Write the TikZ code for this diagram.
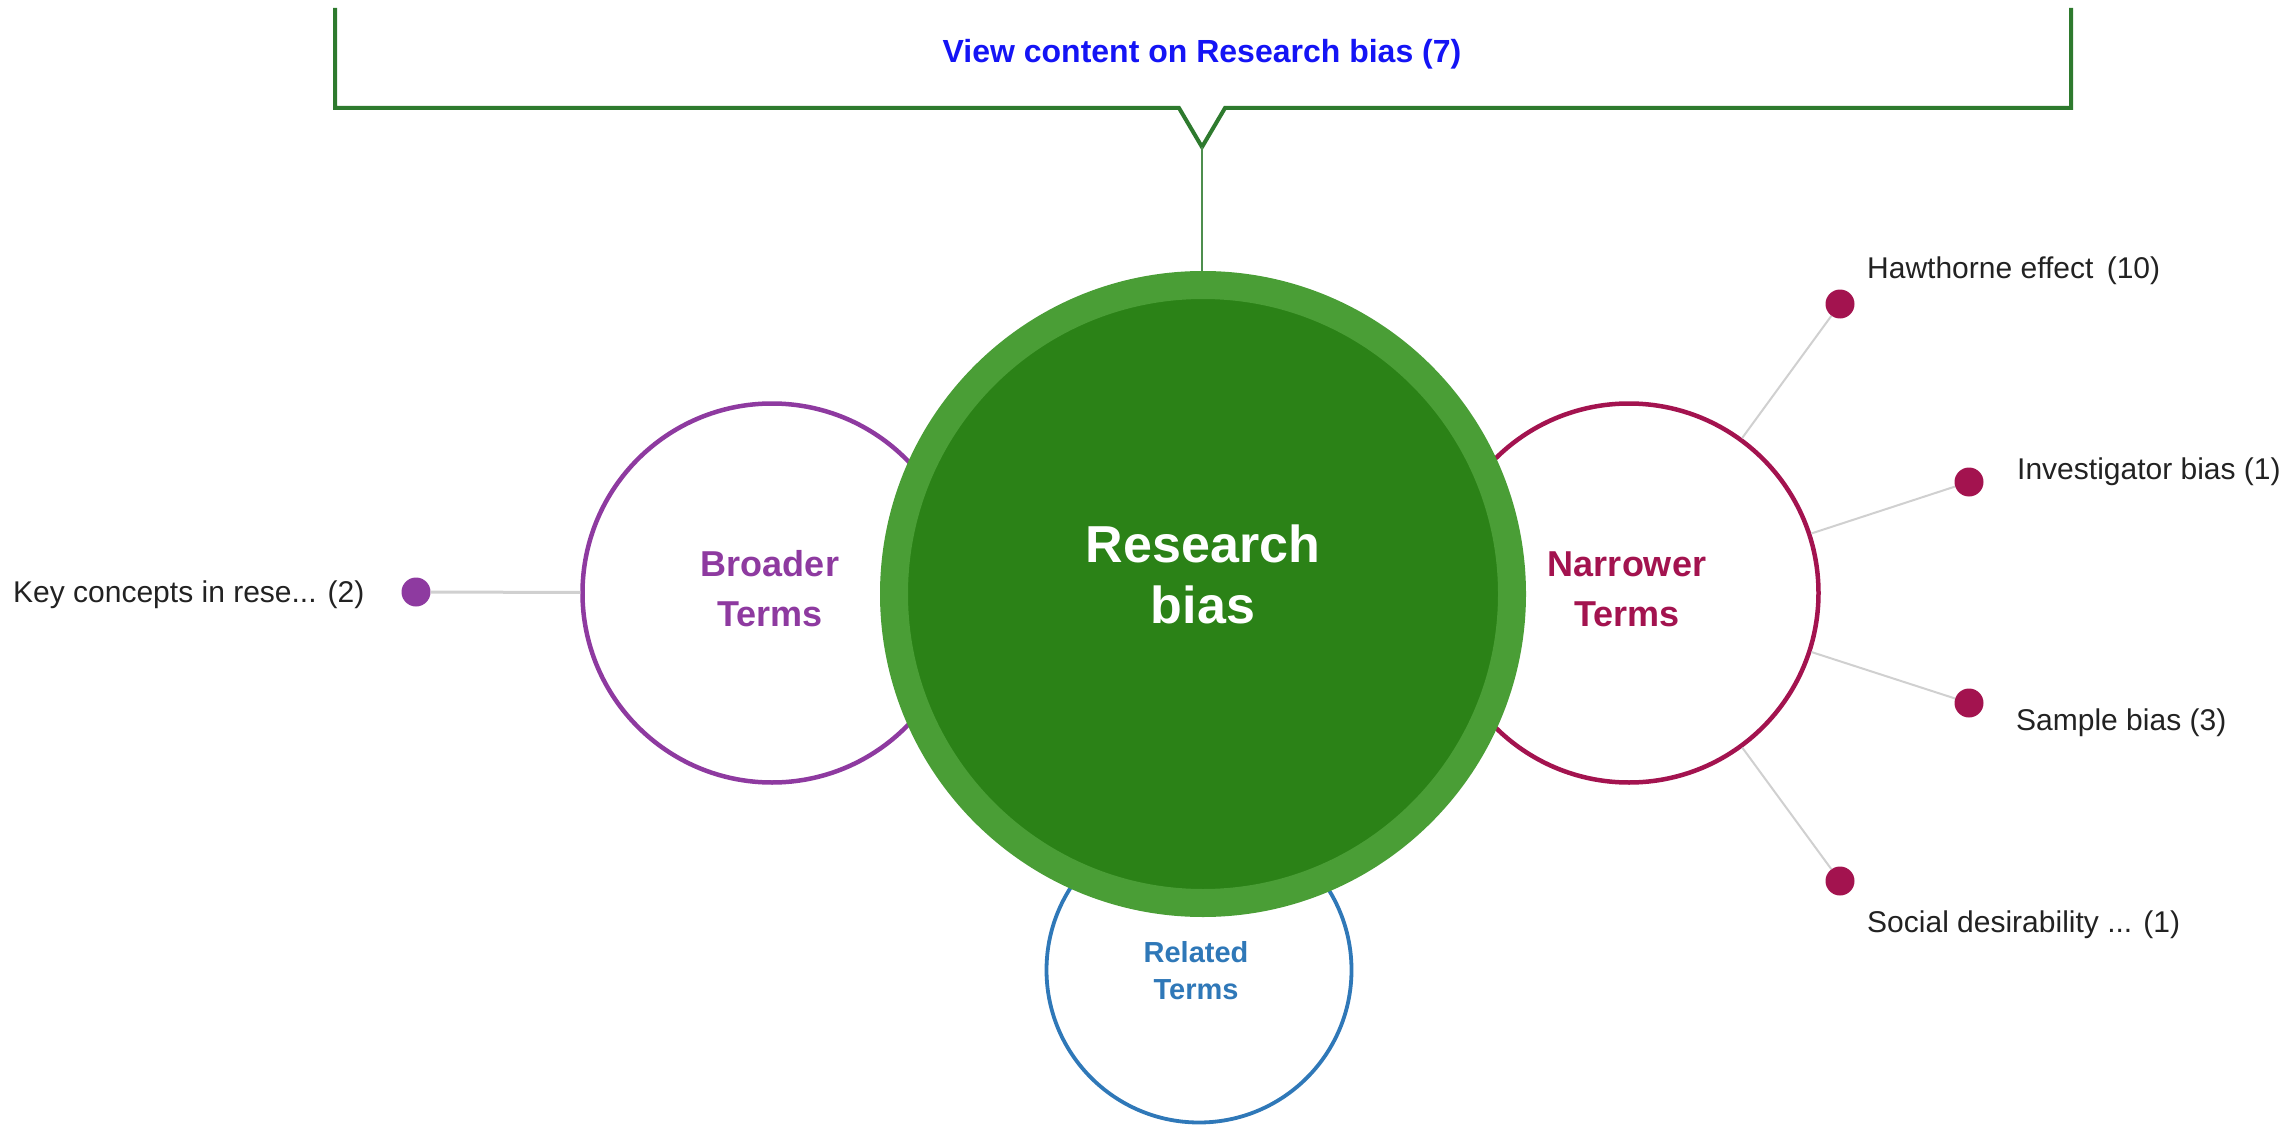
\documentclass[tikz,border=0pt]{standalone}
\usepackage{fontspec}
\setmainfont{Liberation Sans}
\definecolor{ringgreen}{HTML}{4A9E36}
\definecolor{coregreen}{HTML}{2B8217}
\definecolor{boxgreen}{HTML}{2E7A2E}
\definecolor{broadpurple}{HTML}{8E3AA0}
\definecolor{narrowred}{HTML}{A3134F}
\definecolor{relblue}{HTML}{2F78B8}
\definecolor{linkblue}{HTML}{1414F5}
\definecolor{conngray}{HTML}{D0D0D0}
\definecolor{leaftext}{HTML}{222222}
\tikzset{
  termcircle/.style={circle, draw=#1, line width=4.5pt, fill=white, minimum size=379pt, inner sep=0pt},
  dotnode/.style={circle, fill=#1, minimum size=29pt, inner sep=0pt},
  leaflabel/.style={anchor=base west, inner sep=0pt, font=\fontsize{30}{36}\selectfont, text=leaftext},
  termlabel/.style={align=center, inner sep=0pt, text=#1},
  conn/.style={draw=conngray, line width=2pt},
}
\begin{document}
\begin{tikzpicture}[x=1pt,y=-1pt]
\useasboundingbox (0,0) rectangle (2292,1126);
% callout box
\coordinate (tip) at (1202,147);
\draw[boxgreen, line width=4pt, line join=miter]
  (335,8) -- (335,108) -- (1179,108) -- (tip) -- (1225,108) -- (2071,108) -- (2071,8);
\node[anchor=base, inner sep=0pt, text=linkblue, font=\fontsize{32}{38}\selectfont\bfseries] (viewlink) at (1202,63) {View content on Research bias (7)};
% term circles (below main)
\node[termcircle=relblue, line width=3.8pt, minimum size=305pt] (related) at (1199,970) {};
\node[termcircle=broadpurple] (broader) at (772,593) {};
\node[termcircle=narrowred] (narrower) at (1629,593) {};
% leaf dots
\node[dotnode=broadpurple] (kc) at (416,592) {};
\node[dotnode=narrowred] (haw) at (1840,304) {};
\node[dotnode=narrowred] (inv) at (1969,482) {};
\node[dotnode=narrowred] (sam) at (1969,703) {};
\node[dotnode=narrowred] (soc) at (1840,881) {};
% connectors
\draw[conn, line width=3pt] (broader) -- (kc);
\draw[conn] (narrower) -- (haw);
\draw[conn] (narrower) -- (inv);
\draw[conn] (narrower) -- (sam);
\draw[conn] (narrower) -- (soc);
% main circle
\node[circle, draw=ringgreen, line width=28pt, fill=coregreen, minimum size=618pt, inner sep=0pt] (main) at (1203,594) {};
\draw[boxgreen!85!white, line width=2pt] (tip) -- (tip |- main.north);
% labels
\node[termlabel=white, font=\fontsize{52}{61}\selectfont\bfseries] (mainlbl) at (1203,574) {Research\\bias};
\node[termlabel=broadpurple, font=\fontsize{36}{50}\selectfont\bfseries] (broadlbl) at (770,589) {Broader\\Terms};
\node[termlabel=narrowred, font=\fontsize{36}{50}\selectfont\bfseries] (narrowlbl) at (1627,589) {Narrower\\Terms};
\node[termlabel=relblue, font=\fontsize{29}{37}\selectfont\bfseries] (rellbl) at (1196,971) {Related\\Terms};
\node[leaflabel] (kclbl) at (13,602) {Key concepts in rese... (2)};
\node[leaflabel] (hawlbl) at (1867,279) {Hawthorne effect\, (10)};
\node[leaflabel] (invlbl) at (2017,479) {Investigator bias (1)};
\node[leaflabel] (samlbl) at (2016,730) {Sample bias (3)};
\node[leaflabel] (soclbl) at (1867,932) {Social desirability ... (1)};
\end{tikzpicture}
\end{document}
